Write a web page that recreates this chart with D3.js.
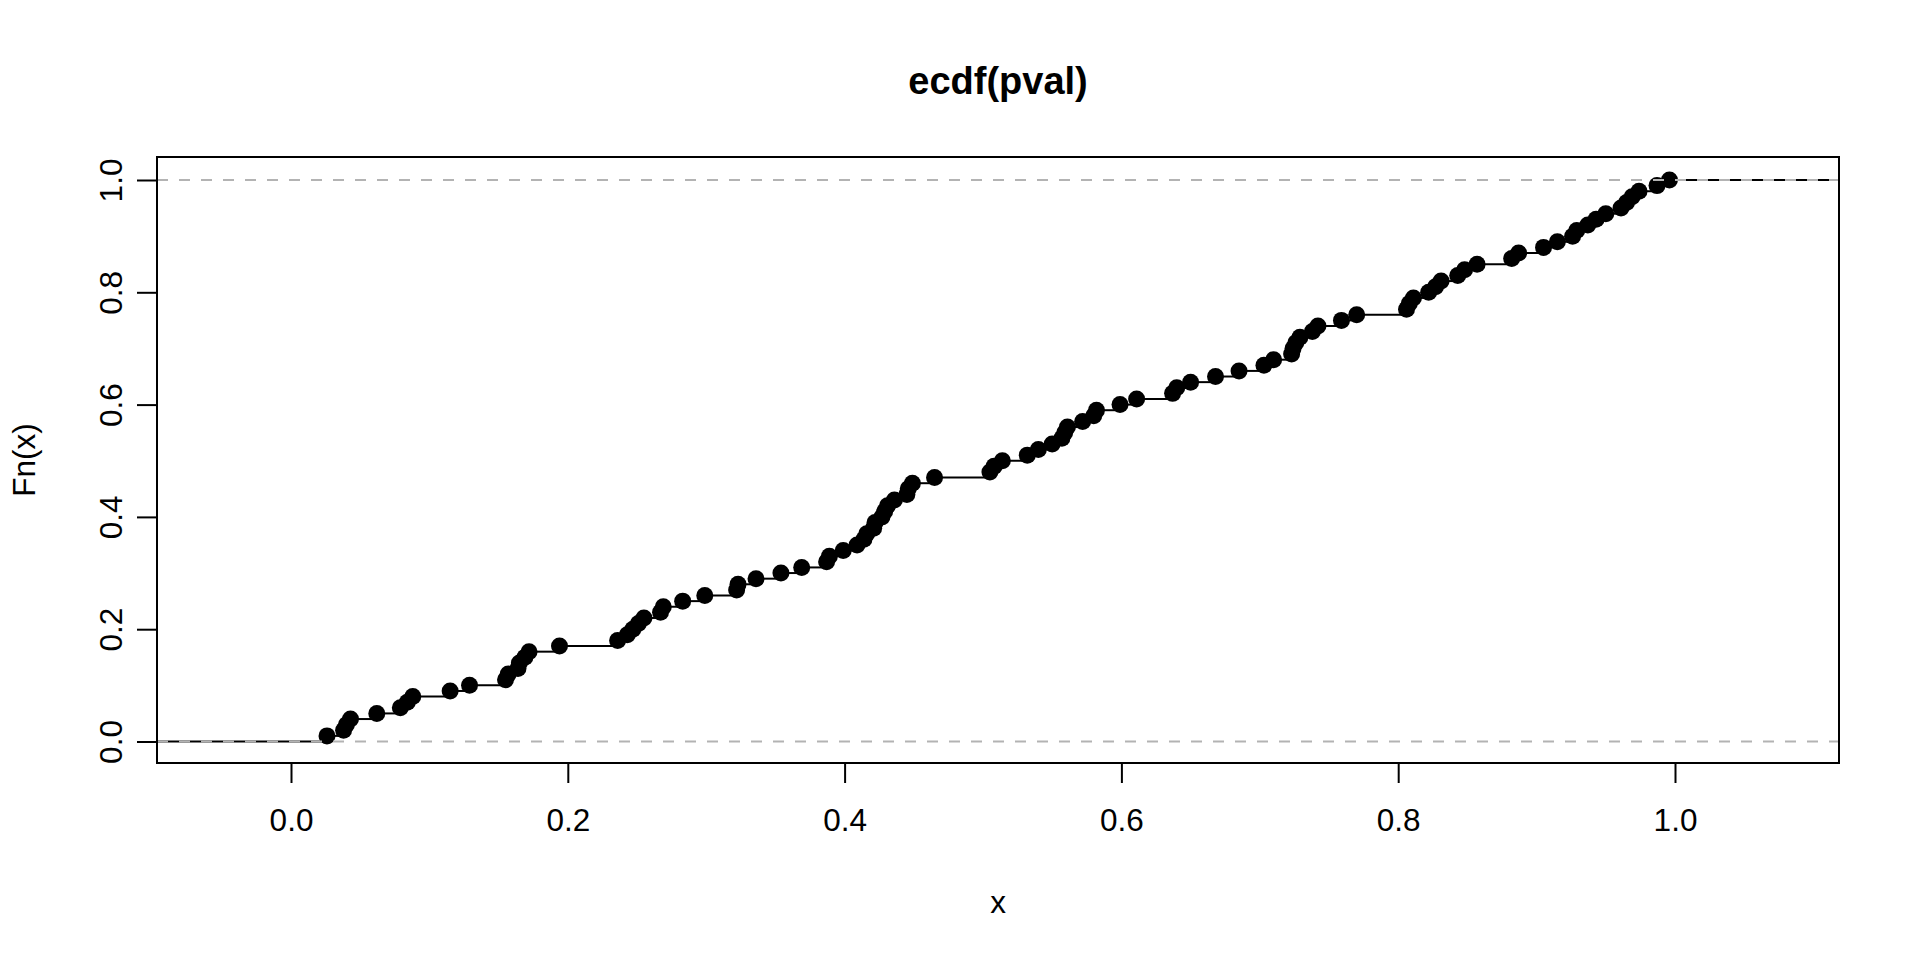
<!DOCTYPE html>
<html>
<head>
<meta charset="utf-8">
<script src="https://cdn.jsdelivr.net/npm/d3@7"></script>
<style>
  body { margin: 0; background: #fff; }
  text { font-family: "Liberation Sans", Arial, sans-serif; fill: #000; }
</style>
</head>
<body>
<div id="chart"></div>
<script>
// sorted p-values, one per step of the ecdf (n = 100)
const pval = [
  0.026, 0.038, 0.040, 0.043, 0.062, 0.079, 0.084, 0.088, 0.115, 0.129,
  0.155, 0.157, 0.164, 0.165, 0.169, 0.172, 0.194, 0.236, 0.243, 0.247,
  0.251, 0.255, 0.267, 0.269, 0.283, 0.299, 0.322, 0.323, 0.336, 0.354,
  0.369, 0.387, 0.389, 0.399, 0.409, 0.414, 0.416, 0.421, 0.422, 0.427,
  0.429, 0.431, 0.436, 0.445, 0.446, 0.449, 0.465, 0.505, 0.508, 0.514,
  0.532, 0.540, 0.550, 0.557, 0.559, 0.561, 0.572, 0.580, 0.582, 0.599,
  0.611, 0.637, 0.640, 0.650, 0.668, 0.685, 0.703, 0.710, 0.723, 0.724,
  0.726, 0.729, 0.738, 0.742, 0.759, 0.770, 0.806, 0.808, 0.811, 0.822,
  0.827, 0.831, 0.843, 0.848, 0.857, 0.882, 0.887, 0.905, 0.915, 0.926,
  0.929, 0.937, 0.943, 0.950, 0.961, 0.965, 0.969, 0.974, 0.987, 0.996
];
const xTicks = [0, 0.2, 0.4, 0.6, 0.8, 1.0];
const yTicks = [0, 0.2, 0.4, 0.6, 0.8, 1.0];
const hLines = [0, 1];

const width = 1920, height = 960;
const box = { left: 157, right: 1839, top: 157, bottom: 763 };

const svg = d3.select('#chart')
    .append('svg')
    .attr('width', width)
    .attr('height', height);

const x = d3.scaleLinear().domain([0, 1]).range([291, 1675]);
const y = d3.scaleLinear().domain([0, 1]).range([741.5, 180]);

const xMin = x.invert(box.left), xMax = x.invert(box.right);
const n = pval.length;

// horizontal steps (no verticals), from box edge to box edge
const steps = d3.range(n + 1).map(i => ({
    x0: i === 0 ? xMin : pval[i - 1],
    x1: i === n ? xMax : pval[i],
    y: i / n
}));

svg.append('g')
    .selectAll('line')
    .data(steps)
    .join('line')
    .attr('x1', d => x(d.x0))
    .attr('x2', d => x(d.x1))
    .attr('y1', d => y(d.y))
    .attr('y2', d => y(d.y))
    .attr('stroke', '#000')
    .attr('stroke-width', 2);

// points
svg.append('g')
    .selectAll('circle')
    .data(pval)
    .join('circle')
    .attr('cx', d => x(d))
    .attr('cy', (d, i) => y((i + 1) / n))
    .attr('r', 8.5)
    .attr('fill', '#000');

// gray dashed reference lines at 0 and 1
svg.append('g')
    .selectAll('line')
    .data(hLines)
    .join('line')
    .attr('x1', box.left)
    .attr('x2', box.right)
    .attr('y1', d => y(d))
    .attr('y2', d => y(d))
    .attr('stroke', '#b3b3b3')
    .attr('stroke-width', 2)
    .attr('stroke-dasharray', '11,11');

// plot box
svg.append('rect')
    .attr('x', box.left)
    .attr('y', box.top)
    .attr('width', box.right - box.left)
    .attr('height', box.bottom - box.top)
    .attr('fill', 'none')
    .attr('stroke', '#000')
    .attr('stroke-width', 2);

// x axis
const xAxis = svg.append('g')
    .attr('transform', `translate(0,${box.bottom})`)
    .call(d3.axisBottom(x).tickValues(xTicks).tickSize(20).tickPadding(26)
        .tickFormat(d3.format('.1f')));
xAxis.select('.domain').remove();
xAxis.selectAll('line').attr('stroke', '#000').attr('stroke-width', 2);
xAxis.selectAll('text')
    .attr('font-size', 31.5)
    .style('font-family', '"Liberation Sans", Arial, sans-serif');

// y axis (labels rotated like R's default las = 0)
const yAxis = svg.append('g')
    .attr('transform', `translate(${box.left},0)`)
    .call(d3.axisLeft(y).tickValues(yTicks).tickSize(20).tickFormat(d3.format('.1f')));
yAxis.select('.domain').remove();
yAxis.selectAll('line').attr('stroke', '#000').attr('stroke-width', 2);
yAxis.selectAll('text')
    .attr('x', null)
    .attr('font-size', 31.5)
    .attr('text-anchor', 'middle')
    .attr('transform', `translate(${-46},0) rotate(-90)`)
    .attr('dy', '0.35em')
    .style('font-family', '"Liberation Sans", Arial, sans-serif');

// title and axis labels
svg.append('text')
    .attr('x', (box.left + box.right) / 2)
    .attr('y', 94)
    .attr('text-anchor', 'middle')
    .attr('font-size', 38)
    .attr('font-weight', 'bold')
    .text('ecdf(pval)');

svg.append('text')
    .attr('x', (box.left + box.right) / 2)
    .attr('y', 913)
    .attr('text-anchor', 'middle')
    .attr('font-size', 31.5)
    .text('x');

svg.append('text')
    .attr('transform', `translate(35,${(box.top + box.bottom) / 2}) rotate(-90)`)
    .attr('text-anchor', 'middle')
    .attr('font-size', 31.5)
    .text('Fn(x)');
</script>
</body>
</html>
